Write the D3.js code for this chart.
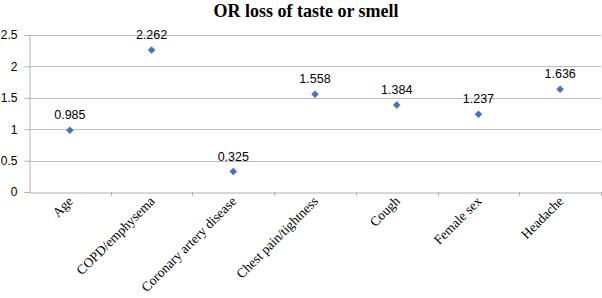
<!DOCTYPE html>
<html>
<head>
<meta charset="utf-8">
<script src="https://cdn.jsdelivr.net/npm/d3@7"></script>
<style>
  body { margin: 0; background: #fff; }
  svg { display: block; }
</style>
</head>
<body>
<div id="chart"></div>
<script>
// Chart values
var categories = ["Age", "COPD/emphysema", "Coronary artery disease", "Chest pain/tightness",
                  "Cough", "Female sex", "Headache"];
var oddsRatios = [0.985, 2.262, 0.325, 1.558, 1.384, 1.237, 1.636];
var yTicks = [0, 0.5, 1, 1.5, 2, 2.5];
var chartTitle = "OR loss of taste or smell";

var width = 602, height = 298;
var margin = {top: 35, right: 1, bottom: 106, left: 29};

var svg = d3.select("#chart").append("svg")
    .attr("width", width)
    .attr("height", height);

var x = d3.scaleBand()
    .domain(categories)
    .range([margin.left, width - margin.right]);

var y = d3.scaleLinear()
    .domain([0, 2.5])
    .range([height - margin.bottom, margin.top]);

// Title
svg.append("text")
    .attr("x", 306)
    .attr("y", 17)
    .attr("text-anchor", "middle")
    .style("font-family", "'Liberation Serif', 'Times New Roman', serif")
    .style("font-weight", "bold")
    .style("font-size", "18px")
    .text(chartTitle);

// Gridlines
svg.append("g")
    .selectAll("line")
    .data(yTicks.filter(function(d) { return d > 0; }))
    .join("line")
    .attr("x1", margin.left)
    .attr("x2", width - margin.right)
    .attr("y1", function(d) { return Math.round(y(d)) + 0.5; })
    .attr("y2", function(d) { return Math.round(y(d)) + 0.5; })
    .attr("stroke", "#bdbdbd")
    .attr("stroke-width", 1);

// Y axis
var yAxis = svg.append("g")
    .attr("transform", "translate(" + (margin.left + 0.5) + ",0)")
    .call(d3.axisLeft(y).tickValues(yTicks).tickSize(5).tickFormat(d3.format("")));
yAxis.select(".domain").attr("stroke", "#b0b0b0");
yAxis.selectAll(".tick line").attr("stroke", "#b0b0b0");
yAxis.selectAll(".tick text")
    .attr("x", -12)
    .style("font-family", "'Liberation Sans', Arial, sans-serif")
    .style("font-size", "12px")
    .attr("fill", "#000");

// X axis
var xAxis = svg.append("g")
    .attr("transform", "translate(0," + (Math.round(y(0)) + 0.5) + ")")
    .call(d3.axisBottom(x).tickSize(0).tickFormat(""));
xAxis.select(".domain").attr("stroke", "#b0b0b0");

// Band boundary tick marks
svg.append("g")
    .selectAll("line")
    .data(categories)
    .join("line")
    .attr("x1", function(d) { return Math.round(x(d) + x.bandwidth()) + 0.5; })
    .attr("x2", function(d) { return Math.round(x(d) + x.bandwidth()) + 0.5; })
    .attr("y1", Math.round(y(0)))
    .attr("y2", Math.round(y(0)) + 4)
    .attr("stroke", "#b0b0b0");

// Category labels, rotated
svg.append("g")
    .selectAll("text")
    .data(categories)
    .join("text")
    .attr("transform", function(d) {
        var cx = x(d) + x.bandwidth() / 2 + 4;
        return "translate(" + cx + "," + (y(0) + 10) + ") rotate(-45)";
    })
    .attr("text-anchor", "end")
    .style("font-family", "'Liberation Serif', 'Times New Roman', serif")
    .style("font-size", "13.5px")
    .text(function(d) { return d; });

// Points
svg.append("g")
    .selectAll("path")
    .data(oddsRatios)
    .join("path")
    .attr("d", d3.symbol().type(d3.symbolDiamond2).size(36))
    .attr("transform", function(d, i) {
        return "translate(" + (x(categories[i]) + x.bandwidth() / 2) + "," + y(d) + ")";
    })
    .attr("fill", "#4472c4");

// Data labels
svg.append("g")
    .selectAll("text")
    .data(oddsRatios)
    .join("text")
    .attr("x", function(d, i) { return x(categories[i]) + x.bandwidth() / 2; })
    .attr("y", function(d) { return y(d) - 11; })
    .attr("text-anchor", "middle")
    .style("font-family", "'Liberation Sans', Arial, sans-serif")
    .style("font-size", "12.5px")
    .text(function(d) { return d3.format(".3f")(d); });
</script>
</body>
</html>
